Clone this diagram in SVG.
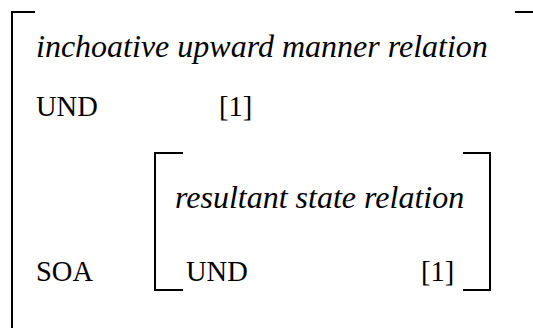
<svg xmlns="http://www.w3.org/2000/svg" width="533" height="328" viewBox="0 0 533 328">
<style>
.br{fill:none;stroke:#000;stroke-width:2;stroke-linecap:butt}
text{font-family:'Liberation Serif','Times New Roman',Times,'DejaVu Serif',serif;fill:#000}
.it{font-style:italic;font-size:32px}
.rm{font-size:28.5px}
</style>
<rect width="533" height="328" fill="#fff"/>
<g id="outer-avm">
<path class="br" d="M35,12 H12 V328"/>
<path class="br" d="M515,12 H533"/>
<text class="it" x="36" y="57">inchoative upward manner relation</text>
<text class="rm" x="36" y="116">UND</text>
<text class="rm" x="219" y="116">[1]</text>
<text class="rm" x="36" y="281">SOA</text>
</g>
<g id="inner-avm">
<path class="br" d="M183,153 H155 V290 H183"/>
<path class="br" d="M463,153 H490 V290 H463"/>
<text class="it" x="175" y="208">resultant state relation</text>
<text class="rm" x="186" y="281">UND</text>
<text class="rm" x="421" y="281">[1]</text>
</g>
<g id="connectors"></g>
</svg>
